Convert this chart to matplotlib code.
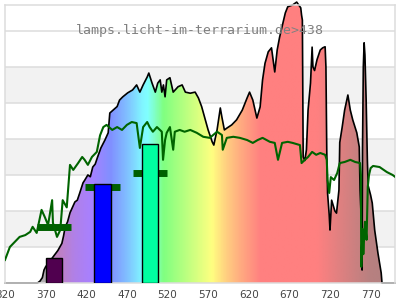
import numpy as np
import matplotlib
matplotlib.use("Agg")
import matplotlib.pyplot as plt
from matplotlib.colors import LinearSegmentedColormap
from matplotlib.patches import Polygon

# lamp spectrum (black outline, filled with wavelength colours)
spec_nm = [320, 360, 363, 366, 368, 370, 375, 380, 385, 390, 392, 394, 397, 400, 403, 406, 409, 412,
           416, 418, 422, 425, 428, 431, 434, 438, 443, 447, 449, 453, 458, 461, 465, 471, 477, 482,
           486, 490, 495, 497, 501, 505, 508, 511, 513, 515, 517, 519, 523, 527, 533, 538, 542, 548,
           554, 558, 562, 566, 570, 575, 577, 581, 585, 587, 590, 593, 599, 605, 612, 618, 621, 625,
           630, 634, 637, 640, 644, 648, 652, 655, 658, 662, 665, 668, 674, 679, 684, 685, 686, 687,
           689, 691, 693, 696, 698, 699, 701, 704, 708, 711, 714, 715, 716, 717, 719, 720, 722, 726,
           728, 731, 732, 735, 738, 742, 745, 748, 753, 756, 757, 759, 759.5, 760, 761, 762, 763,
           764.5, 766, 767, 770, 772, 775, 779, 783, 784, 800]
spec_val = [0, 0, 0.05, 0.15, 0.36, 0.45, 0.6, 0.75, 0.9, 1.1, 1.3, 1.55, 1.7, 1.95, 2.1, 2.25, 2.3, 2.5,
            2.78, 2.85, 3.0, 2.95, 3.22, 3.3, 3.5, 3.75, 3.97, 4.17, 4.72, 4.8, 4.9, 5.08, 5.17, 5.28, 5.36, 5.5,
            5.3, 5.5, 5.72, 5.83, 5.55, 5.3, 5.55, 5.64, 5.3, 5.5, 5.17, 5.64, 5.7, 5.3, 5.45, 5.5, 5.3, 5.27,
            5.3, 5.14, 4.9, 4.58, 4.25, 3.92, 3.83, 4.25, 4.86, 4.6, 4.25, 4.3, 4.39, 4.53, 4.8, 5.14, 5.3, 5.08,
            4.58, 4.89, 5.64, 6.1, 6.42, 6.53, 5.86, 6.47, 6.83, 7.22, 7.5, 7.67, 7.72, 7.8, 7.64, 7.44, 7.3, 3.5,
            3.4, 3.7, 4.8, 5.55, 6.55, 6.0, 5.9, 6.2, 6.47, 6.53, 6.56, 6.0, 3.7, 2.5, 1.9, 1.47, 2.3, 2.0,
            1.94, 2.58, 3.9, 4.33, 4.8, 5.22, 4.8, 4.53, 4.17, 3.78, 2.58, 1.47, 0.36, 3.7, 6.0, 6.67, 6.33,
            5.08, 3.4, 2.7, 2.44, 2.22, 1.47, 0.83, 0.28, 0, 0]

# reference spectrum (green line)
ref_nm = [320, 326, 332, 338, 345, 351, 354, 359, 365, 369, 373, 378, 379, 384, 388, 391, 396, 400,
          404, 410, 415, 418, 422, 427, 433, 437, 441, 445, 452, 458, 464, 470, 476, 482, 486, 490,
          495, 498, 502, 507, 513, 514.5, 517, 519, 523, 527, 529, 535, 541, 548, 556, 564, 572, 581,
          587, 588, 593, 601, 609, 618, 625, 631, 637, 646, 652, 656, 661, 668, 674, 683, 685, 689,
          693, 698, 703, 708, 714, 716, 717, 719, 721, 725, 729, 732, 738, 745, 751, 757, 758, 758.5,
          760, 761, 763, 765, 766.5, 768, 770, 773, 781, 790, 797, 800]
ref_val = [0.64, 1.0, 1.14, 1.28, 1.33, 1.42, 1.56, 1.39, 2.03, 1.83, 1.61, 2.3, 1.67, 1.28, 1.47, 2.3, 2.1, 3.28,
           3.14, 3.33, 3.5, 3.42, 3.28, 3.5, 3.64, 4.1, 4.33, 4.39, 4.25, 4.33, 4.25, 4.39, 4.47, 4.44, 3.75, 4.33,
           4.47, 4.33, 4.2, 4.33, 4.2, 3.42, 3.97, 4.17, 4.33, 3.7, 4.2, 4.25, 4.2, 4.25, 4.17, 4.06, 4.03, 4.2,
           4.11, 3.7, 4.03, 4.06, 4.03, 3.97, 3.89, 3.97, 4.03, 3.92, 3.89, 3.42, 3.89, 3.92, 3.89, 3.83, 3.33, 3.42,
           3.5, 3.64, 3.56, 3.61, 3.56, 3.42, 2.86, 2.5, 2.94, 2.86, 3.06, 3.33, 3.36, 3.42, 3.36, 3.33, 3.0, 0.45,
           1.5, 0.8, 1.7, 1.2, 2.67, 3.0, 3.19, 3.25, 3.22, 3.08, 3.0, 2.95]

# band bars and band averages
bar_nm = [380, 440, 498]
bar_val = [0.69, 2.74, 3.85]
bar_colors = ["#50004f", "#0000ff", "#00ffa0"]
avg_val = [1.56, 2.67, 3.06]

ticks = [320, 370, 420, 470, 520, 570, 620, 670, 720, 770]
title = "lamps.licht-im-terrarium.de>438"

x_min, x_max = 320, 800
y_max = 7.72

fig = plt.figure(figsize=(4, 3), dpi=100)
ax = fig.add_axes([0.0125, 0.0567, 0.975, 0.9267])
ax.set_xlim(x_min, x_max)
ax.set_ylim(0, y_max)

# striped background + grid
for lo in (1, 3, 5):
    ax.axhspan(lo, lo + 1, color="#f2f2f2", zorder=0, lw=0)
for g in range(1, 8):
    ax.axhline(g, color="#dcdcdc", lw=1.1, zorder=0.5)

# wavelength colour gradient clipped to the spectrum
stops = [(320, "#b0b0b0"), (365, "#b0b0b0"), (385, "#c080c0"), (405, "#b080e8"), (425, "#a880ff"),
         (450, "#8090ff"), (470, "#80c0ff"), (488, "#80f4ff"), (495, "#80ffff"), (505, "#80ffc0"),
         (515, "#80ff80"), (545, "#c0ff80"), (575, "#ffff80"), (592, "#ffd080"), (612, "#ffa880"),
         (635, "#ff8080"), (705, "#ff8080"), (740, "#d88080"), (770, "#b88080"), (800, "#b08080")]
cmap = LinearSegmentedColormap.from_list(
    "wl", [((n - x_min) / (x_max - x_min), c) for n, c in stops])
grad = np.linspace(0, 1, 960).reshape(1, -1)
im = ax.imshow(grad, cmap=cmap, aspect="auto", extent=[x_min, x_max, 0, y_max],
               origin="lower", zorder=1, interpolation="bilinear")
poly = Polygon(list(zip(spec_nm, spec_val)) + [(x_max, 0), (x_min, 0)],
               closed=True, facecolor="none", edgecolor="none")
ax.add_patch(poly)
im.set_clip_path(poly)

ax.plot(spec_nm, spec_val, color="black", lw=1.2, zorder=2, clip_on=False)

# band averages behind the bars
ax.hlines(avg_val, [b - 21 for b in bar_nm], [b + 21 for b in bar_nm],
          colors="#006000", lw=5, zorder=3)
ax.bar(bar_nm, bar_val, width=20, color=bar_colors, edgecolor="black", lw=1, zorder=4)

ax.plot(ref_nm, ref_val, color="#006400", lw=1.5, zorder=5)

ax.text(0.5 * (x_min + x_max), 7.0, title, ha="center", va="center",
        family="DejaVu Sans Mono", fontsize=9.5, color="#808080", zorder=6)

ax.set_xticks(ticks)
ax.set_xticklabels([str(t) for t in ticks], fontsize=7.5, color="#444444")
ax.tick_params(axis="x", length=0, pad=5)
ax.set_yticks([])
for s in ax.spines.values():
    s.set_color("#dcdcdc")
    s.set_linewidth(1.1)

fig.savefig("out.png", dpi=100)
